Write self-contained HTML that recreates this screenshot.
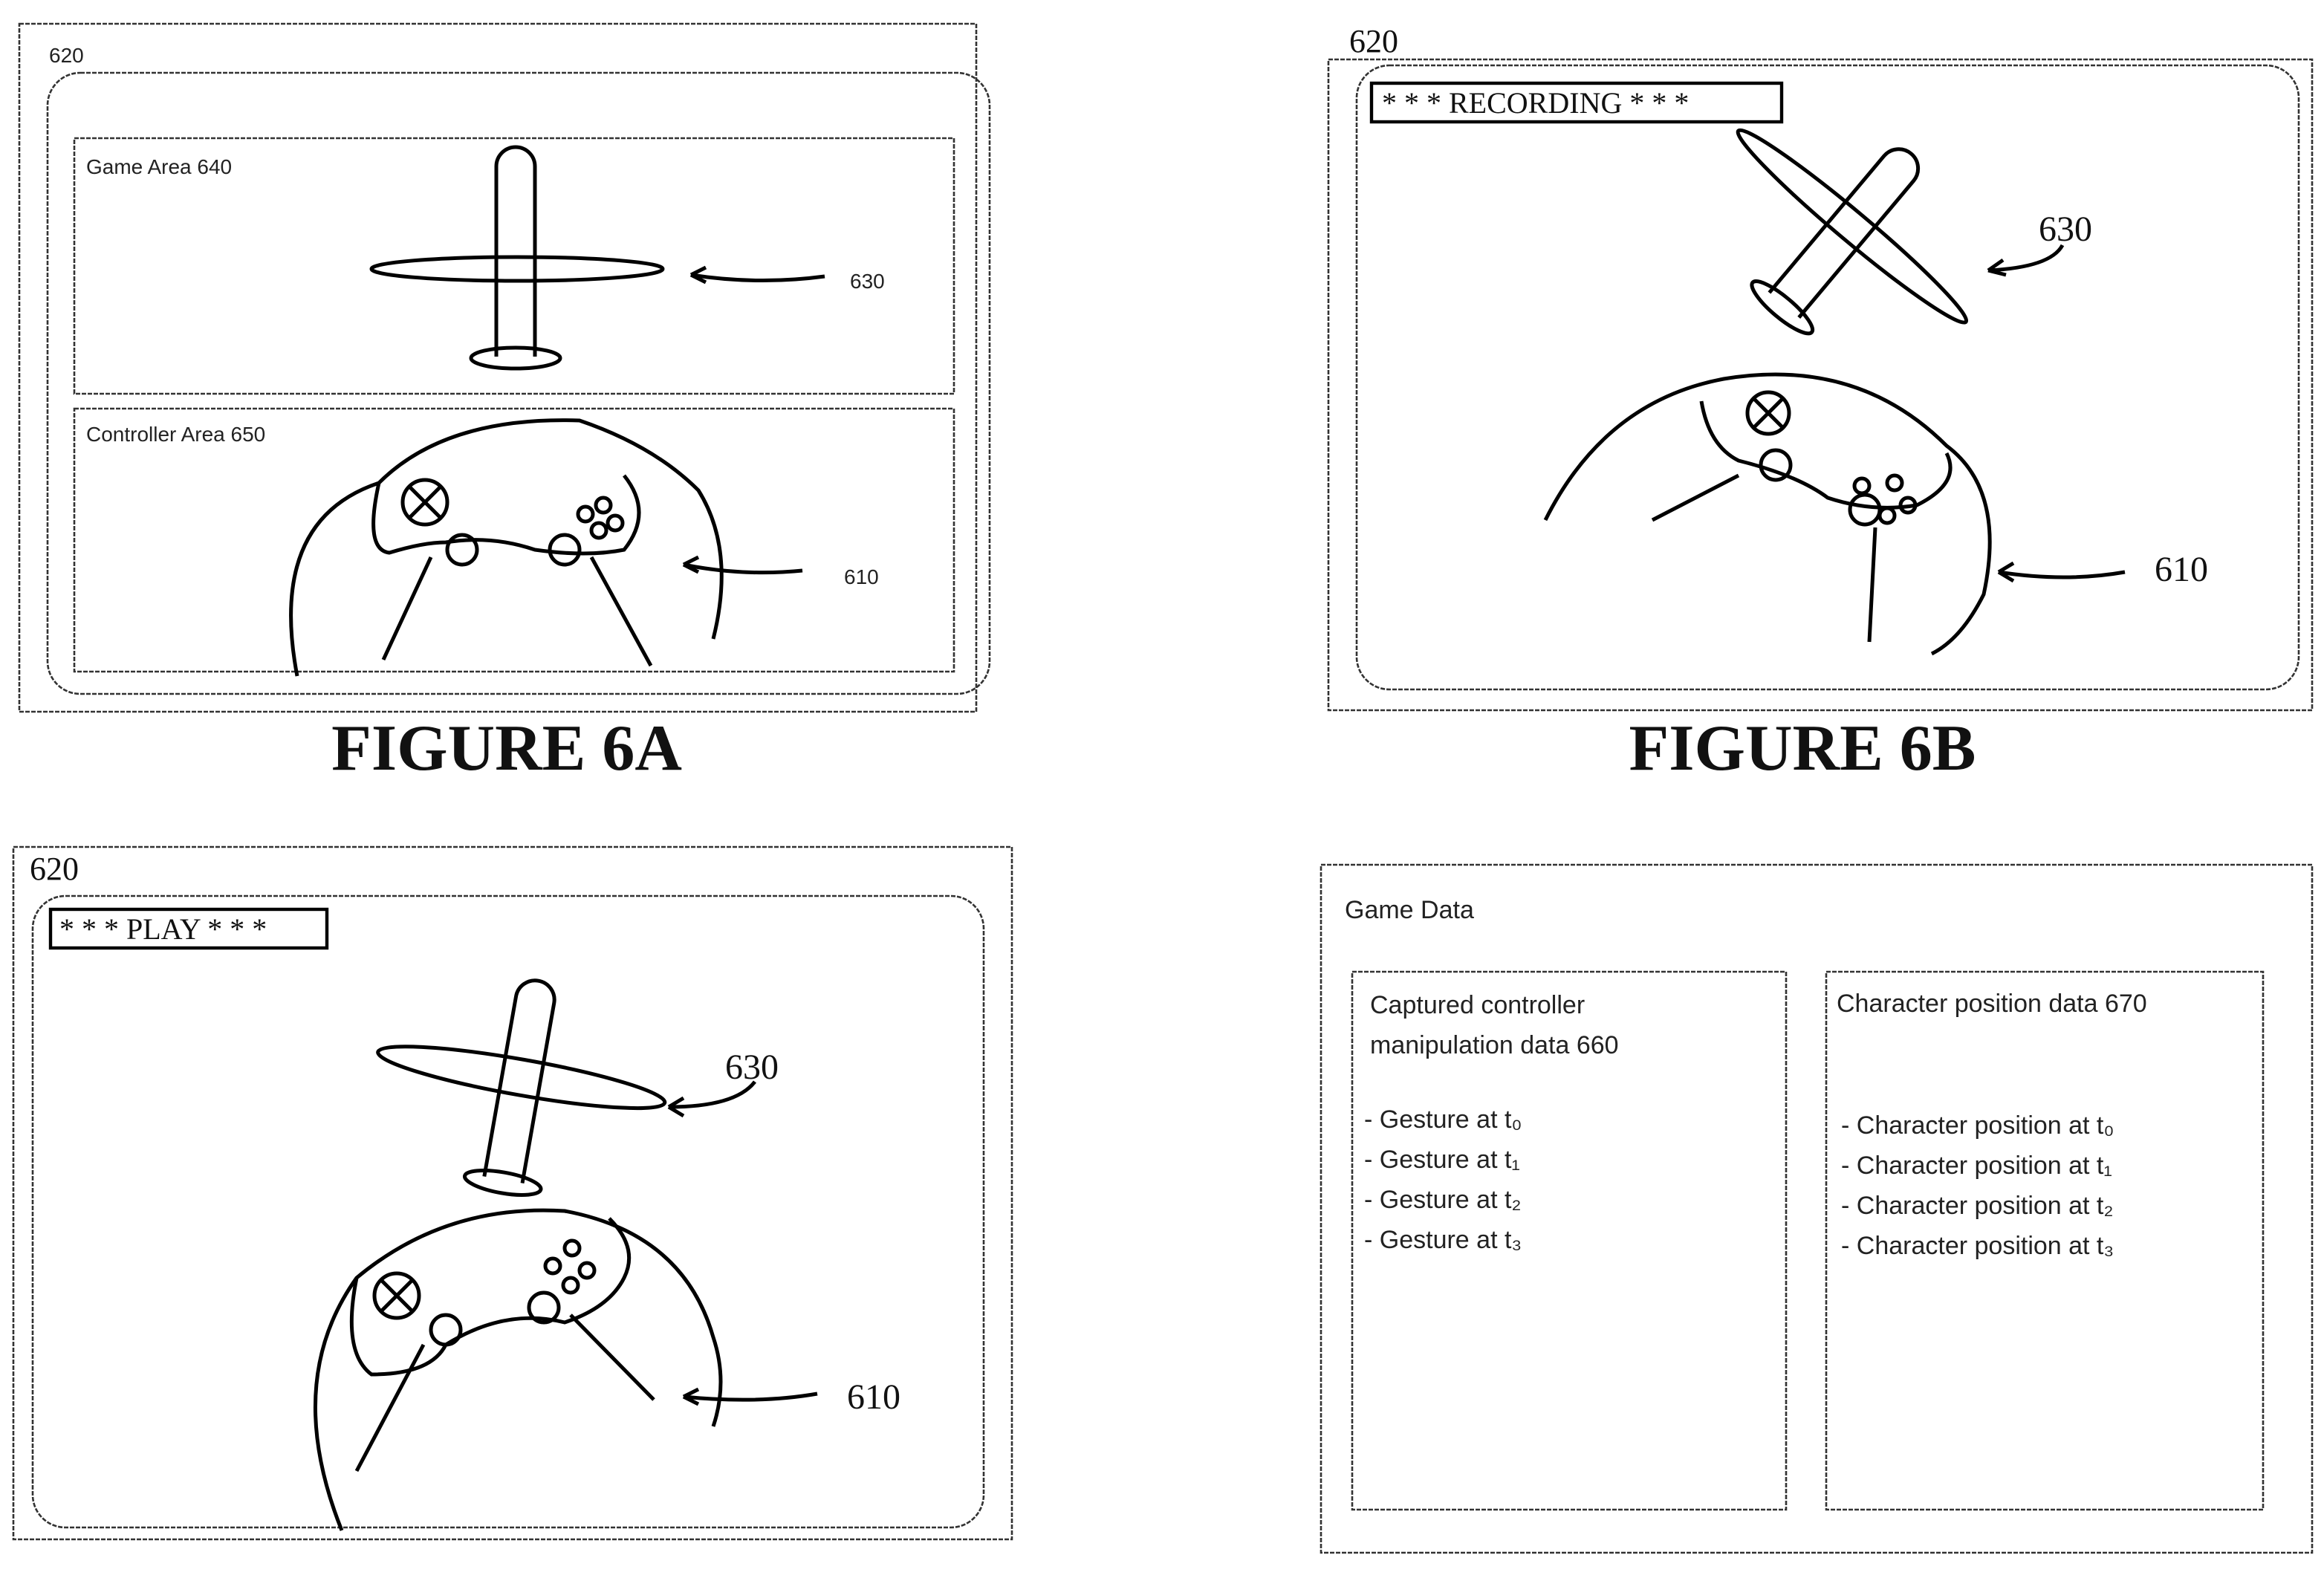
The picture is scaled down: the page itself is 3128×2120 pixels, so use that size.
<!DOCTYPE html>
<html><head><style>html,body{margin:0;padding:0;background:#fff}svg{display:block}</style></head>
<body>
<svg width="3128" height="2120" viewBox="0 0 1564 1060" xmlns="http://www.w3.org/2000/svg" font-family="Liberation Sans, sans-serif">
<g fill="none" stroke="#333" stroke-width="1.3" stroke-dasharray="3,1">
<!-- 6A -->
<rect x="13" y="16" width="644" height="463"/>
<rect x="32" y="49" width="634" height="418" rx="22"/>
<rect x="50" y="93" width="592" height="172"/>
<rect x="50" y="275" width="592" height="177"/>
<!-- 6B -->
<rect x="894" y="40" width="662" height="438"/>
<rect x="913" y="44" width="634" height="420" rx="22"/>
<!-- 6C -->
<rect x="9" y="570" width="672" height="466"/>
<rect x="22" y="603" width="640" height="425" rx="22"/>
<!-- 6D -->
<rect x="889" y="582" width="667" height="463"/>
<rect x="910" y="654" width="292" height="362"/>
<rect x="1229" y="654" width="294" height="362"/>
</g>
<g fill="none" stroke="#000" stroke-width="2.2">
<rect x="923" y="56" width="276" height="26"/>
<rect x="34" y="612" width="186" height="26"/>
</g>
<g font-size="14" fill="#222">
<text x="33" y="42">620</text>
<text x="58" y="117">Game Area 640</text>
<text x="58" y="297">Controller Area 650</text>
<text x="572" y="194">630</text>
<text x="568" y="393">610</text>
<text x="905" y="618" font-size="17">Game Data</text>
<g font-size="17">
<text x="922" y="682">Captured controller</text>
<text x="922" y="709">manipulation data 660</text>
<text x="918" y="759">- Gesture at t₀</text>
<text x="918" y="786">- Gesture at t₁</text>
<text x="918" y="813">- Gesture at t₂</text>
<text x="918" y="840">- Gesture at t₃</text>
<text x="1236" y="681">Character position data 670</text>
<text x="1239" y="763">- Character position at t₀</text>
<text x="1239" y="790">- Character position at t₁</text>
<text x="1239" y="817">- Character position at t₂</text>
<text x="1239" y="844">- Character position at t₃</text>
</g>
</g>
<g font-family="Liberation Serif, serif" fill="#111">
<text x="908" y="35" font-size="22">620</text>
<text x="20" y="592" font-size="22">620</text>
<text x="930" y="76" font-size="20">* * * RECORDING * * *</text>
<text x="40" y="632" font-size="20">* * * PLAY * * *</text>
<text x="1372" y="162" font-size="24">630</text>
<text x="1450" y="391" font-size="24">610</text>
<text x="488" y="726" font-size="24">630</text>
<text x="570" y="948" font-size="24">610</text>
<text x="341" y="518" font-size="44" font-weight="bold" text-anchor="middle">FIGURE 6A</text>
<text x="1213" y="518" font-size="44" font-weight="bold" text-anchor="middle">FIGURE 6B</text>
</g>
<!-- planes & controllers -->
<g fill="none" stroke="#000" stroke-width="2.5">
<!-- 6A plane -->
<ellipse cx="348" cy="181" rx="98" ry="8"/>
<path d="M334 240 V112 a13 13 0 0 1 26 0 V240"/>
<ellipse cx="347" cy="241" rx="30" ry="7"/>
<path d="M465 185 Q510 192 555 186"/><path d="M465 185 l10 -5 M465 185 l10 5"/>
<!-- 6A controller -->
<path d="M200 455 Q180 350 255 325 Q300 280 390 283 Q440 300 470 330 Q495 370 480 430"/>
<path d="M255 325 Q245 370 262 372 Q285 365 300 365 Q330 360 360 370 Q395 375 420 370 Q440 345 420 320"/>
<circle cx="286" cy="338" r="15"/><path d="M276 328 l20 20 M296 328 l-20 20"/>
<circle cx="311" cy="370" r="10"/><circle cx="380" cy="370" r="10"/>
<circle cx="394" cy="346" r="5"/><circle cx="406" cy="340" r="5"/><circle cx="414" cy="352" r="5"/><circle cx="403" cy="357" r="5"/>
<path d="M290 375 L258 444 M398 375 L438 448"/>
<path d="M460 380 Q500 388 540 384"/><path d="M460 380 l10 -5 M460 380 l10 5"/>
<!-- 6B plane -->
<g transform="rotate(40 1240 160)">
<ellipse cx="1240" cy="150" rx="100" ry="10"/>
<path d="M1226 220 V100 a13 13 0 0 1 26 0 V220"/>
<ellipse cx="1239" cy="222" rx="26" ry="7"/>
</g>
<path d="M1338 182 Q1380 180 1388 165"/><path d="M1338 182 l10 -7 M1338 182 l12 3"/>
<!-- 6B controller -->
<path d="M1040 350 Q1080 270 1160 255 Q1250 240 1310 300 Q1350 330 1335 400 Q1320 430 1300 440"/>
<path d="M1145 270 Q1150 300 1170 310 Q1210 320 1230 335 Q1260 345 1290 340 Q1320 325 1310 305"/>
<circle cx="1190" cy="278" r="14"/><path d="M1180 268 l20 20 M1200 268 l-20 20"/>
<circle cx="1195" cy="313" r="10"/><circle cx="1255" cy="343" r="10"/>
<circle cx="1253" cy="327" r="5"/><circle cx="1275" cy="325" r="5"/><circle cx="1284" cy="340" r="5"/><circle cx="1270" cy="347" r="5"/>
<path d="M1170 320 L1112 350 M1262 355 L1258 432"/>
<path d="M1345 385 Q1390 392 1430 385"/><path d="M1345 385 l10 -6 M1345 385 l10 6"/>
<!-- 6C plane -->
<g transform="rotate(10 350 730)">
<ellipse cx="350" cy="725" rx="98" ry="12"/>
<path d="M337 795 V672 a13 13 0 0 1 26 0 V795"/>
<ellipse cx="350" cy="797" rx="26" ry="7"/>
</g>
<path d="M450 745 Q495 745 508 728"/><path d="M450 745 l10 -6 M450 745 l10 6"/>
<!-- 6C controller -->
<path d="M230 1030 Q190 930 240 860 Q300 810 380 815 Q460 830 480 900 Q490 930 480 960"/>
<path d="M240 860 Q230 910 250 925 Q290 925 300 905 Q340 880 380 890 Q410 880 420 860 Q430 840 410 820"/>
<circle cx="267" cy="872" r="15"/><path d="M257 862 l20 20 M277 862 l-20 20"/>
<circle cx="300" cy="895" r="10"/><circle cx="366" cy="880" r="10"/>
<circle cx="372" cy="852" r="5"/><circle cx="385" cy="840" r="5"/><circle cx="395" cy="855" r="5"/><circle cx="384" cy="865" r="5"/>
<path d="M285 905 L240 990 M384 885 L440 942"/>
<path d="M460 940 Q510 945 550 938"/><path d="M460 940 l10 -5 M460 940 l10 5"/>
</g>
</svg>
</body></html>
